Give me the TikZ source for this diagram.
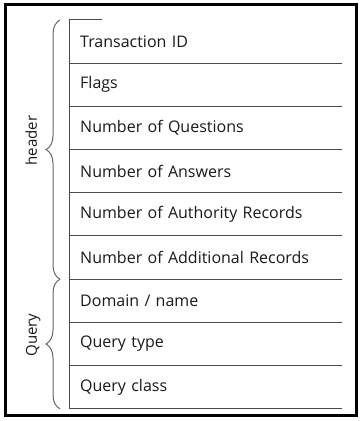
\documentclass[tikz,border=0pt]{standalone}
\usepackage{fontspec}
\setmainfont{Open Sans}
\usetikzlibrary{positioning,decorations.pathreplacing}

\begin{document}
\begin{tikzpicture}[
    x=1pt,y=1pt,
    node distance=0pt,
    row/.style={anchor=north west,inner xsep=11pt,inner ysep=0pt,
      text width=251pt,minimum height=42.8pt,text=black!90,
      font=\fontsize{16}{18}\selectfont},
    sep/.style={draw=black!70,line width=1pt},
    brace/.style={draw=black!60,line width=1pt,
      decorate,decoration={brace,amplitude=14pt}},
    lbl/.style={rotate=90,anchor=base,text=black!90,
      font=\fontsize{15}{17}\selectfont}]
    \useasboundingbox (0,0) rectangle (361,421);
    \draw[line width=3pt] (5,5) rectangle (356,416);
    \node[row] (tid) at (69,401) {Transaction ID};
    \node[row,below=of tid] (flags) {Flags};
    \node[row,below=of flags] (nquest) {Number of Questions};
    \node[row,below=of nquest] (nans) {Number of Answers};
    \node[row,below=of nans] (nauth) {Number of Authority Records};
    \node[row,below=of nauth] (naddl) {Number of Additional Records};
    \node[row,below=of naddl] (domain) {Domain / name};
    \node[row,below=of domain] (qtype) {Query type};
    \node[row,below=of qtype] (qclass) {Query class};
    % table rules
    \draw[sep] (tid.north west) -- ++(33,0);
    \draw[sep] (tid.north west) -- (qclass.south west);
    \foreach \r in {tid,flags,nquest,nans,nauth,naddl,domain,qtype,qclass}
      \draw[sep] (\r.south west) -- (\r.south east);
    % braces
    \draw[brace] ([xshift=-9pt]naddl.south west) -- ([xshift=-9pt]tid.north west)
      node[midway,xshift=-23pt,yshift=9pt,lbl] (hdr) {header};
    \draw[brace] ([xshift=-9pt]qclass.south west) -- ([xshift=-9pt]domain.north west)
      node[midway,xshift=-23pt,yshift=9pt,lbl] (qry) {Query};
  \end{tikzpicture}
\end{document}
